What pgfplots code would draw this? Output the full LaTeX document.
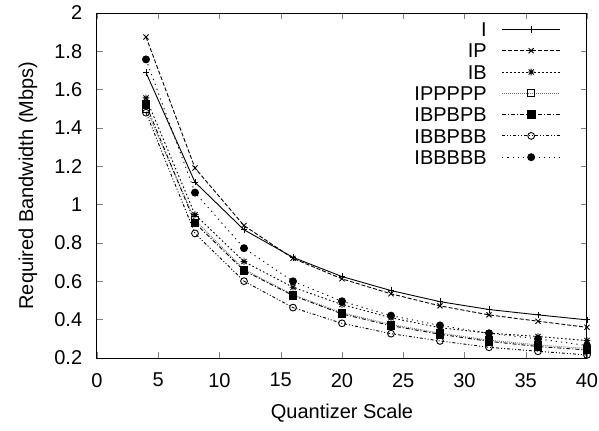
\documentclass[border=0pt]{standalone}
\usepackage{fontspec}
\setmainfont{Liberation Sans}
\usepackage{pgfplots}
\pgfplotsset{compat=1.18}

% gnuplot style "*" mark: + and x together
\pgfdeclareplotmark{gpstar}{%
  \pgfpathmoveto{\pgfqpoint{-\pgfplotmarksize}{0pt}}%
  \pgfpathlineto{\pgfqpoint{\pgfplotmarksize}{0pt}}%
  \pgfpathmoveto{\pgfqpoint{0pt}{-\pgfplotmarksize}}%
  \pgfpathlineto{\pgfqpoint{0pt}{\pgfplotmarksize}}%
  \pgfpathmoveto{\pgfqpoint{-.75\pgfplotmarksize}{-.75\pgfplotmarksize}}%
  \pgfpathlineto{\pgfqpoint{.75\pgfplotmarksize}{.75\pgfplotmarksize}}%
  \pgfpathmoveto{\pgfqpoint{-.75\pgfplotmarksize}{.75\pgfplotmarksize}}%
  \pgfpathlineto{\pgfqpoint{.75\pgfplotmarksize}{-.75\pgfplotmarksize}}%
  \pgfusepathqstroke}

\begin{document}
\begin{tikzpicture}
\path[use as bounding box] (-48.5pt,-36pt) rectangle (251pt,179pt);
\begin{axis}[
    scale only axis,
    width=245pt, height=172.5pt,
    xmin=0, xmax=40,
    ymin=0.2, ymax=2,
    xtick={0,5,...,40},
    ytick={0.2,0.4,0.6,0.8,1,1.2,1.4,1.6,1.8,2},
    tick align=inside,
    major tick length=3pt,
    axis line style={line width=0.5pt},
    /pgf/number format/assume math mode=true,
    ticklabel style={font=\normalsize},
    xticklabel style={yshift=-4pt},
    yticklabel style={xshift=-3.9pt},
    xlabel={Quantizer Scale},
    ylabel={Required Bandwidth (Mbps)},
    x label style={at={(axis description cs:0.5,-0.16)}, anchor=center},
    y label style={at={(axis description cs:-0.141,0.5)}, anchor=center},
    legend plot pos=right,
    legend cell align=right,
    legend image code/.code={\draw[mark repeat=2,mark phase=2]
        plot coordinates {(0pt,0pt) (14.5pt,0pt) (29pt,0pt)};},
    legend style={draw=none, fill=none, inner sep=0pt,
        at={(axis description cs:0.947,0.9745)}, anchor=north east,
        column sep=7.5pt, row sep=3.45pt,
        nodes={inner sep=0pt, text height=7.2pt, text depth=0pt}},
    every axis plot/.append style={line width=0.45pt, black},
]

\addplot[solid, mark=+, mark size=1.6pt, mark options={solid}] coordinates {
(4,1.689) (8,1.117) (12,0.869) (16,0.725) (20,0.625)
(24,0.552) (28,0.494) (32,0.453) (36,0.425) (40,0.399)};
\addlegendentry{I}

\addplot[dash pattern=on 2pt off 1pt, mark=x, mark size=1.8pt, mark options={solid}] coordinates {
(4,1.875) (8,1.191) (12,0.891) (16,0.720) (20,0.613)
(24,0.535) (28,0.472) (32,0.425) (36,0.392) (40,0.360)};
\addlegendentry{IP}

\addplot[dash pattern=on 0.8pt off 1.2pt, mark=gpstar, mark size=1.7pt, mark options={solid}] coordinates {
(4,1.557) (8,0.948) (12,0.703) (16,0.569) (20,0.479)
(24,0.410) (28,0.358) (32,0.330) (36,0.312) (40,0.291)};
\addlegendentry{IB}

\addplot[black!55, dash pattern=on 0.5pt off 0.5pt, mark=square, mark size=1.7pt,
    mark options={solid, black}] coordinates {
(4,1.500) (8,0.920) (12,0.662) (16,0.530) (20,0.436)
(24,0.375) (28,0.330) (32,0.293) (36,0.268) (40,0.250)};
\addlegendentry{IPPPPP}

\addplot[dash pattern=on 2pt off 1pt on 0.5pt off 1pt, mark=square*, mark size=1.9pt,
    mark options={solid}] coordinates {
(4,1.522) (8,0.905) (12,0.656) (16,0.526) (20,0.430)
(24,0.369) (28,0.324) (32,0.287) (36,0.260) (40,0.242)};
\addlegendentry{IBPBPB}

\addplot[dash pattern=on 1.5pt off 1pt on 0.5pt off 1pt on 0.5pt off 1pt,
    mark=o, mark size=1.7pt, mark options={solid}] coordinates {
(4,1.480) (8,0.850) (12,0.601) (16,0.463) (20,0.381)
(24,0.327) (28,0.289) (32,0.256) (36,0.235) (40,0.216)};
\addlegendentry{IBBPBB}

\addplot[dash pattern=on 0.6pt off 2pt, mark=*, mark size=1.75pt, mark options={solid}] coordinates {
(4,1.758) (8,1.063) (12,0.773) (16,0.600) (20,0.496)
(24,0.421) (28,0.370) (32,0.329) (36,0.300) (40,0.265)};
\addlegendentry{IBBBBB}

\end{axis}
\end{tikzpicture}
\end{document}
